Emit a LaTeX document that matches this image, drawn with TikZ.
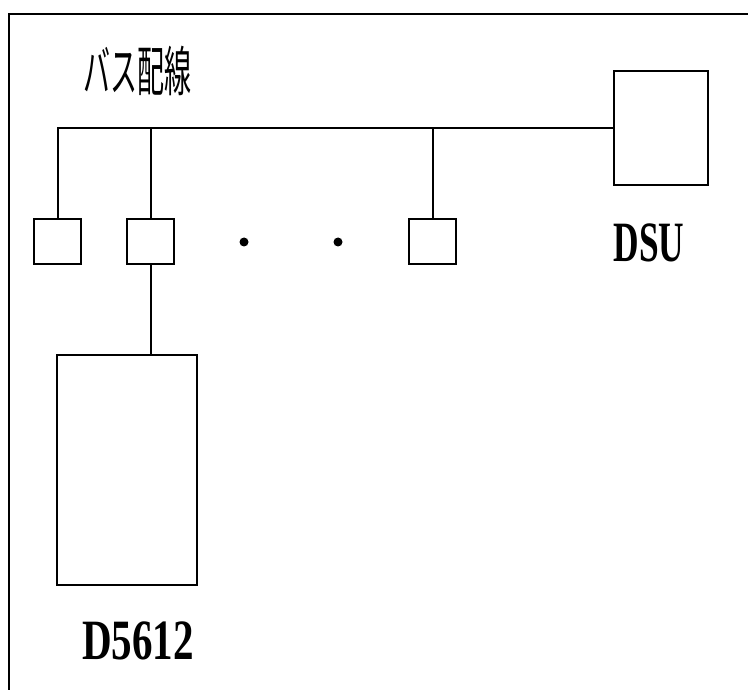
\documentclass[tikz,border=0pt]{standalone}
\usepackage{fontspec}
\setmainfont{Liberation Serif}
\newfontfamily\jpfont{Noto Sans CJK JP}
\tikzset{
  box/.style={draw, line width=2.8pt, inner sep=0pt, minimum width=#1},
  bus/.style={line width=2pt},
  lbl/.style={inner sep=0pt, anchor=center},
}
\begin{document}
\begin{tikzpicture}[x=1pt,y=-1pt]
\useasboundingbox (0,0) rectangle (748,690);
% frame (right and bottom edges lie outside the picture)
\draw[line width=2.4pt] (9,690) -- (9,14) -- (760,14);
% units
\node[box=47pt, minimum height=45pt] (u1) at (57.5,241.5) {};
\node[box=47pt, minimum height=45pt] (u2) at (150.5,241.5) {};
\node[box=47pt, minimum height=45pt] (u3) at (432.5,241.5) {};
\node[box=94pt, minimum height=114pt] (dsu) at (661,128) {};
\node[box=140pt, minimum height=230pt] (dev) at (127,470) {};
% dots
\node[circle, fill, inner sep=0pt, minimum size=9pt] (d1) at (244,242) {};
\node[circle, fill, inner sep=0pt, minimum size=9pt] (d2) at (338,242) {};
% bus
\coordinate (b0) at (dsu.west);
\draw[bus] (u1.north) -- (u1.north |- b0) -- (b0);
\draw[bus] (u2.north |- b0) -- (u2.north);
\draw[bus] (u3.north |- b0) -- (u3.north);
\draw[bus] (u2.south) -- (u2.south |- dev.north);
% labels
\node[lbl] (t) at (137,71) {\scalebox{0.5}[1]{\jpfont\fontsize{54pt}{54pt}\selectfont バス配線}};
\node[lbl] (dsul) at (649,243) {\scalebox{0.62}[1]{\bfseries\fontsize{57pt}{57pt}\selectfont DSU}};
\node[lbl] (devl) at (138,641) {\scalebox{0.72}[1]{\bfseries\fontsize{57pt}{57pt}\selectfont D5612}};
\end{tikzpicture}
\end{document}
